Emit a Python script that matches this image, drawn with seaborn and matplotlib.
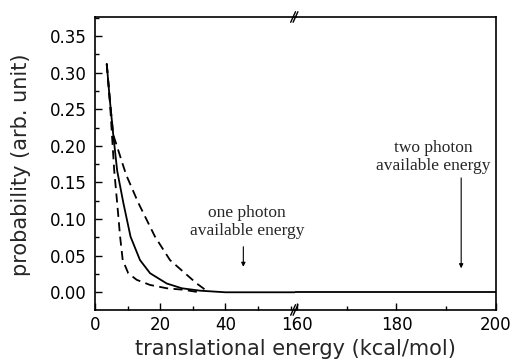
import numpy as np
import pandas as pd
import seaborn as sns
import matplotlib
matplotlib.use("Agg")
import matplotlib.pyplot as plt
from matplotlib.ticker import MultipleLocator, FormatStrFormatter

# ---- data ----
solid_x = [3.6, 4.5, 5.6, 6.8, 8.7, 10.9, 13.8, 16.9, 22.0, 26.6, 32.2, 40.0, 61.5]
solid_y = [0.312, 0.265, 0.215, 0.166, 0.122, 0.076, 0.044, 0.026, 0.012, 0.0055, 0.0022, 0.0, 0.0]

inner_x = [3.6, 4.5, 5.3, 5.9, 6.8, 7.7, 8.5, 10.2, 12.8, 16.9, 22.0, 27.0, 32.0]
inner_y = [0.312, 0.265, 0.208, 0.166, 0.122, 0.076, 0.044, 0.026, 0.017, 0.010, 0.0055, 0.0035, 0.0]

outer_x = [3.6, 4.5, 5.6, 6.6, 8.2, 9.6, 13.3, 18.4, 23.0, 27.6, 31.2, 33.2, 34.5]
outer_y = [0.312, 0.265, 0.215, 0.2015, 0.179, 0.160, 0.122, 0.076, 0.044, 0.026, 0.012, 0.0055, 0.0]

right_x = [159.7, 200.0]
right_y = [0.0, 0.0]

left_ticks = [0, 20, 40]
right_ticks = [160, 180, 200]

one_photon_x = 45.5
two_photon_x = 193.0

sns.set_theme(style="ticks")
plt.rcParams['font.family'] = ['DejaVu Sans']

fig = plt.figure(figsize=(5.13, 3.62), dpi=100)
L, R, B, T = 95/513, 496/513, 1-310/362, 1-17/362
gs = fig.add_gridspec(1, 2, left=L, right=R, bottom=B, top=T, wspace=0, width_ratios=[1, 1])
axl = fig.add_subplot(gs[0])
axr = fig.add_subplot(gs[1], sharey=axl)
for ax in (axl, axr):
    ax.patch.set_visible(False)
axl.set_zorder(2)

lw = 1.3
sns.lineplot(x=solid_x, y=solid_y, ax=axl, color="black", lw=lw, sort=False)
sns.lineplot(x=inner_x, y=inner_y, ax=axl, color="black", lw=lw, sort=False)
axl.lines[-1].set_dashes([5, 3])
sns.lineplot(x=outer_x, y=outer_y, ax=axl, color="black", lw=lw, sort=False)
axl.lines[-1].set_dashes([5, 3])
sns.lineplot(x=right_x, y=right_y, ax=axr, color="black", lw=lw)

axl.set_xlim(0, 61.5)
axr.set_xlim(159.7, 200)
axl.set_ylim(-0.0242, 0.376)

axl.set_xticks(left_ticks)
axl.xaxis.set_minor_locator(MultipleLocator(10))
axr.set_xticks(right_ticks)
axr.xaxis.set_minor_locator(MultipleLocator(10))
axl.yaxis.set_major_locator(MultipleLocator(0.05))
axl.yaxis.set_minor_locator(MultipleLocator(0.025))
axl.yaxis.set_major_formatter(FormatStrFormatter('%.2f'))

for ax in (axl, axr):
    for s in ax.spines.values():
        s.set_color("black")
        s.set_linewidth(1.2)
    ax.tick_params(which='both', direction='in', colors='black', labelsize=12, width=1.0)
    ax.tick_params(which='major', length=5)
    ax.tick_params(which='minor', length=3)
    ax.tick_params(axis='x', pad=4)
    ax.set_xlabel("")
    ax.set_ylabel("")

axl.spines['right'].set_visible(False)
axr.spines['left'].set_visible(False)
axr.tick_params(axis='y', which='both', left=False, labelleft=False)
axl.tick_params(axis='y', pad=6)

# break marks
d = 0.012
for yb in (0, 1):
    for dx in (-0.012, 0.0):
        axr.plot([dx - d, dx + d], [yb - 0.018, yb + 0.018], transform=axr.transAxes,
                 color="black", lw=1.0, clip_on=False)

fig.text(0.575, 0.035, "translational energy (kcal/mol)", ha="center", va="center", fontsize=15)
fig.text(0.04, 0.545, "probability (arb. unit)", ha="center", va="center", rotation=90, fontsize=15)

serif = ['Liberation Serif', 'DejaVu Serif']
axl.text(46.6, 0.096, "one photon\navailable energy", ha="center", va="center",
         fontsize=12.5, family=serif, clip_on=False)
axl.annotate("", xy=(one_photon_x, 0.031), xytext=(one_photon_x, 0.066),
             arrowprops=dict(arrowstyle='-|>', color='black', lw=0.8, mutation_scale=6))
axr.text(187.4, 0.185, "two photon\navailable energy", ha="center", va="center",
         fontsize=12.5, family=serif, clip_on=False)
axr.annotate("", xy=(two_photon_x, 0.029), xytext=(two_photon_x, 0.16),
             arrowprops=dict(arrowstyle='-|>', color='black', lw=0.8, mutation_scale=6))

fig.savefig("out.png", dpi=100, facecolor="white")
